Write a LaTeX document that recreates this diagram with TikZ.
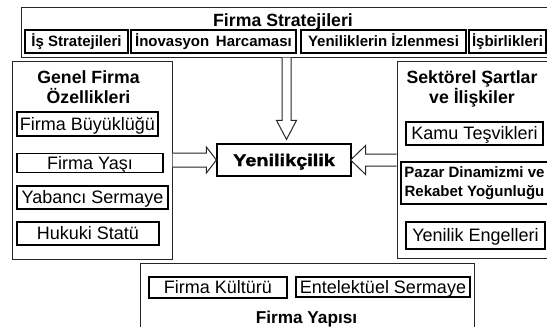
\documentclass[tikz,border=0pt]{standalone}
\usepackage{fontspec}
\setmainfont{Liberation Sans}
\newfontfamily\heavyfont[FakeBold=1.6]{Liberation Sans Bold}
\usepackage{graphicx}
\usetikzlibrary{calc}
\tikzset{
  outer/.style={draw=black!85, line width=1pt, inner sep=0pt},
  inbox/.style={draw=black, line width=1.2pt, inner sep=0pt},
  reg/.style={font=\fontsize{18}{20}\selectfont, text height=12.9pt, text depth=0pt},
  topl/.style={font=\bfseries\fontsize{15}{18}\selectfont, text height=10.7pt, text depth=0pt},
  ttl/.style={font=\bfseries\fontsize{17.7}{20}\selectfont, anchor=base, inner sep=0pt},
  barrow/.style={draw=black!85, line width=1pt, fill=white, line join=miter},
}
\begin{document}
\begin{tikzpicture}[x=1pt,y=-1pt]
\useasboundingbox (0,0) rectangle (547,327);
% outer boxes
\node[outer, minimum width=527pt, minimum height=50pt] (fs) at (284.5,32) {};
\node[outer, minimum width=160pt, minimum height=198pt] (gf) at (92,160) {};
\node[outer, minimum width=151pt, minimum height=197pt] (ss) at (472.5,159.5) {};
\node[outer, minimum width=334pt, minimum height=67pt] (fy) at (307,296.5) {};
% titles
\node[ttl] (fst) at (283,26.5) {Firma Stratejileri};
\node[ttl] (gft1) at (88.5,83.3) {Genel Firma};
\node[ttl] (gft2) at (88.5,103.3) {Özellikleri};
\node[ttl] (sst1) at (472,83.3) {Sektörel Şartlar};
\node[ttl] (sst2) at (472,103.3) {ve İlişkiler};
\node[ttl, font=\bfseries\fontsize{17.2}{20}\selectfont] (fyt) at (306.5,323.5) {Firma Yapısı};
% centre
\node[inbox, minimum width=134pt, minimum height=32pt, font=\heavyfont\fontsize{17}{20}\selectfont, text height=12.2pt, text depth=0pt] (inno) at (284,160) {\scalebox{1.17}[1]{Yenilikçilik}};
% top row
\node[inbox, topl, minimum width=103pt, minimum height=23pt] (is) at (76.5,41.5) {İş Stratejileri};
\node[inbox, topl, minimum width=165pt, minimum height=23pt] (inov) at (213.5,41.5) {İnovasyon\, Harcaması};
\node[inbox, topl, minimum width=165pt, minimum height=23pt] (yen) at (383.5,41.5) {Yeniliklerin İzlenmesi};
\node[inbox, topl, minimum width=77pt, minimum height=23pt] (isb) at (507.5,41.5) {İşbirlikleri};
% left column
\node[inbox, reg, minimum width=141pt, minimum height=24pt] (fb) at (87.5,124) {Firma Büyüklüğü};
\node[inbox, reg, minimum width=146pt, minimum height=18.5pt] (fya) at (90,163) {Firma Yaşı};
\node[inbox, reg, minimum width=151pt, minimum height=23pt] (ys) at (92.5,197.5) {Yabancı Sermaye};
\node[inbox, reg, minimum width=142pt, minimum height=23pt] (hs) at (88,233.5) {Hukuki Statü};
% right column
\node[inbox, reg, minimum width=137pt, minimum height=23pt] (kt) at (474.5,133.5) {Kamu Teşvikleri};
\node[inbox, minimum width=147pt, minimum height=42pt, align=center, font=\bfseries\fontsize{15}{19}\selectfont] (pz) at (474.5,183) {Pazar Dinamizmi ve\\Rekabet Yoğunluğu};
\node[inbox, reg, minimum width=139pt, minimum height=27pt] (ye) at (475.5,235.5) {Yenilik Engelleri};
% bottom
\node[inbox, reg, minimum width=138pt, minimum height=21pt] (fk) at (218,287.5) {Firma Kültürü};
\node[inbox, reg, minimum width=174pt, minimum height=20pt] (es) at (383,287) {Entelektüel Sermaye};
% arrow tips
\coordinate (ttip) at ($(inno.north)+(2.5,-4)$);
\coordinate (ltip) at (inno.west);
\coordinate (rtip) at ($(inno.east)+(-1,0)$);
% top arrow
\draw[barrow] ($(fs.south -| ttip)+(-4.5,0)$) -- ($(ttip)+(-4.5,-19)$) -- ($(ttip)+(-10,-19)$) -- (ttip)
  -- ($(ttip)+(10,-19)$) -- ($(ttip)+(4.5,-19)$) -- ($(fs.south -| ttip)+(4.5,0)$);
% left arrow
\draw[barrow] ($(gf.east |- ltip)+(0,-7)$) -- ($(ltip)+(-10,-7)$) -- ($(ltip)+(-10,-13)$) -- (ltip)
  -- ($(ltip)+(-10,13)$) -- ($(ltip)+(-10,7)$) -- ($(gf.east |- ltip)+(0,7)$);
% right arrow
\draw[barrow] ($(ss.west |- rtip)+(0,-6)$) -- ($(rtip)+(15,-6)$) -- ($(rtip)+(15,-14.5)$) -- (rtip)
  -- ($(rtip)+(15,14.5)$) -- ($(rtip)+(15,6)$) -- ($(ss.west |- rtip)+(0,6)$);
\end{tikzpicture}
\end{document}
